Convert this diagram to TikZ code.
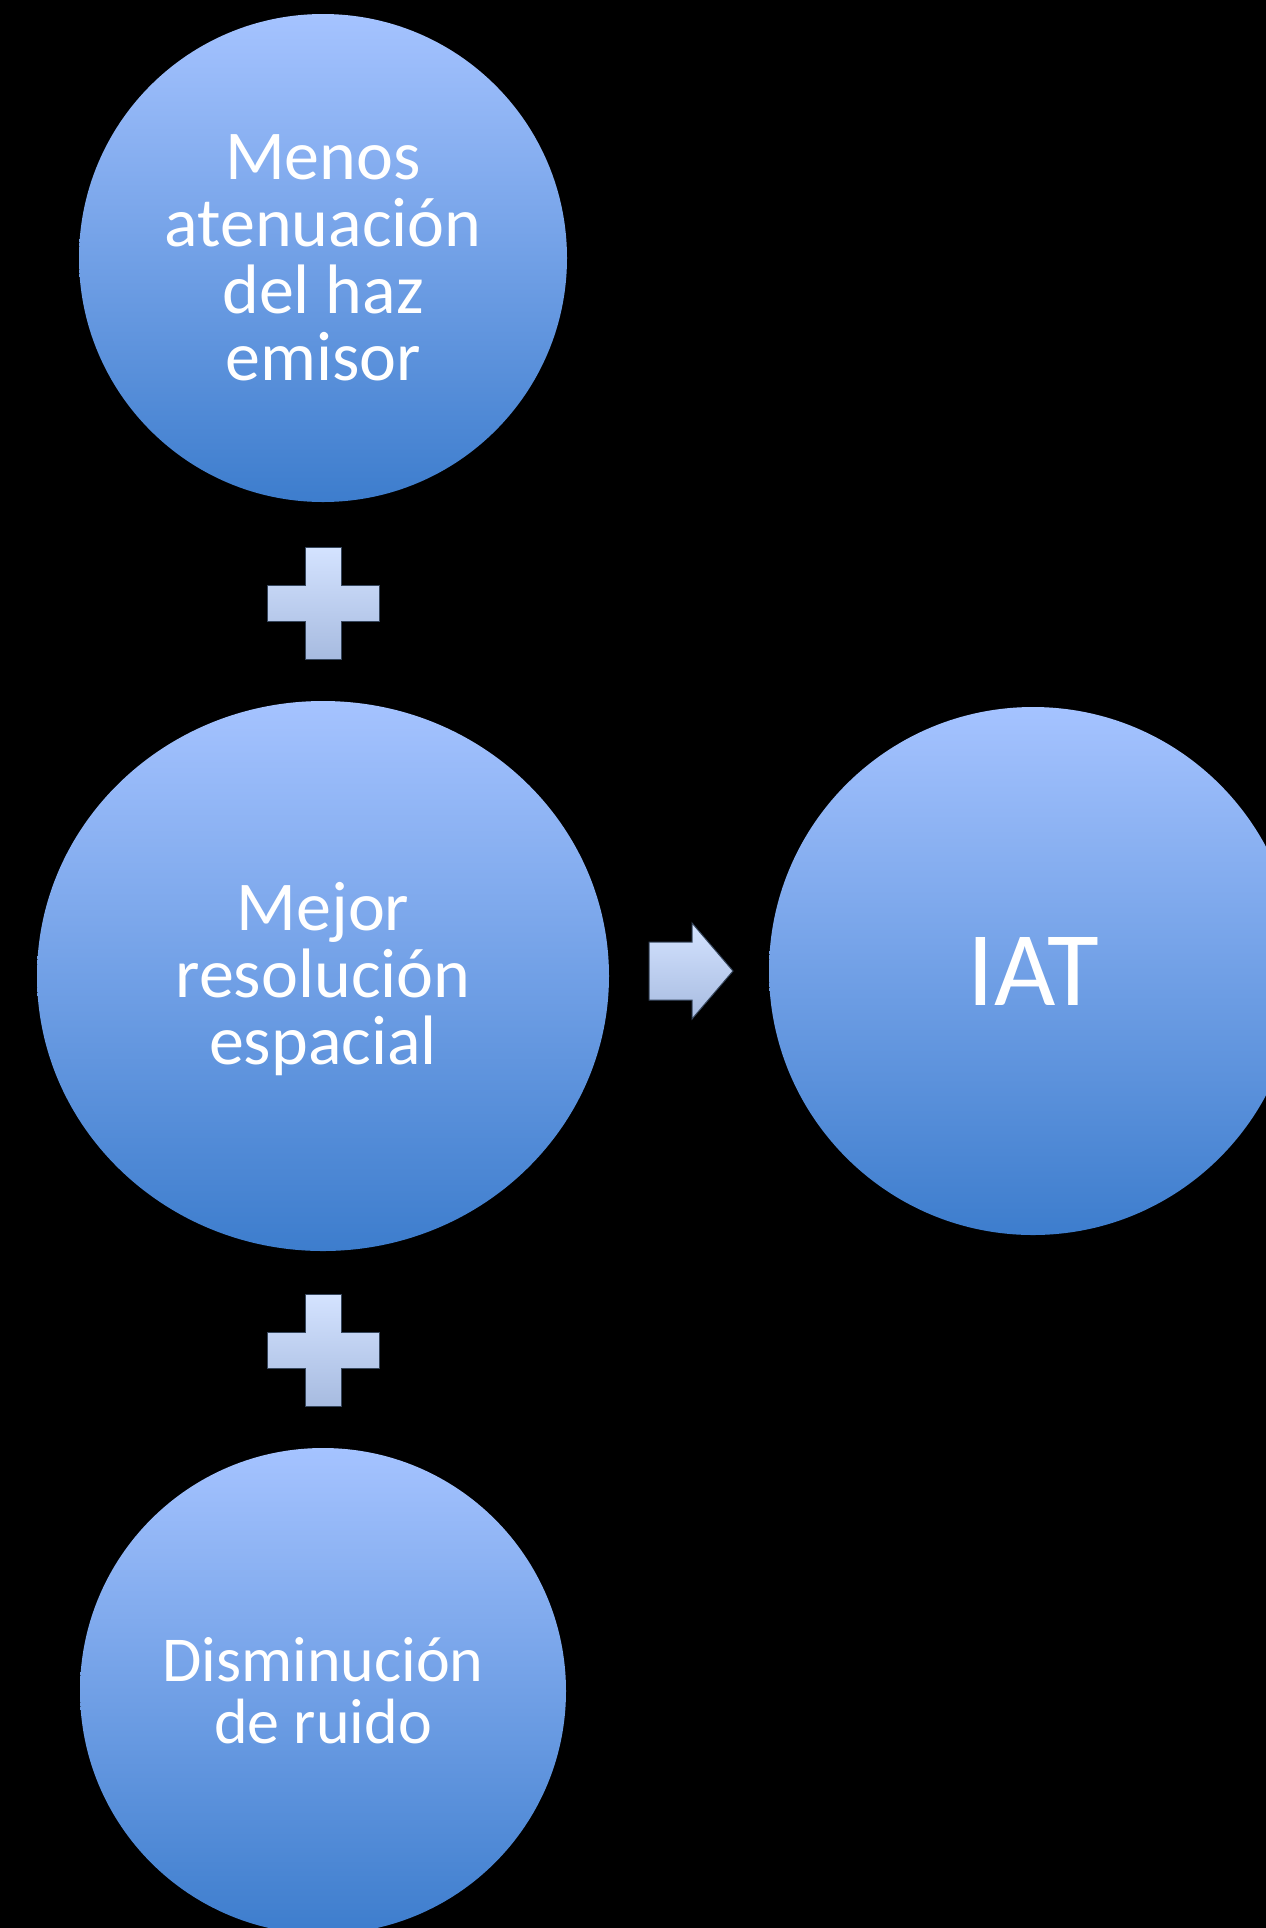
\documentclass[tikz,border=0pt]{standalone}
\usepackage{fontspec}
\setmainfont{Carlito}
\usetikzlibrary{shapes.geometric}
\definecolor{circtop}{HTML}{A5C3FF}
\definecolor{circbot}{HTML}{3D7DCD}
\definecolor{signtop}{HTML}{D4E3FF}
\definecolor{signbot}{HTML}{A7BBE0}
\definecolor{signline}{HTML}{36465C}
\begin{document}
\begin{tikzpicture}[x=1pt,y=-1pt,
  bubble/.style={circle, inner sep=0pt, top color=circtop, bottom color=circbot,
    text=white, align=center, font=\fontsize{70}{67}\selectfont},
  oval/.style={ellipse, inner sep=0pt, top color=circtop, bottom color=circbot,
    text=white, align=center, font=\fontsize{70}{67}\selectfont},
  sign/.style={top color=signtop, bottom color=signbot, draw=signline, line width=1pt}
]
\fill[black] (0,0) rectangle (1266,1928);
\useasboundingbox (0,0) rectangle (1266,1928);
\clip (0,0) rectangle (1266,1928);

% input bubbles
\node[bubble, minimum size=488pt] (atten) at (323,258)
  {Menos\\atenuación\\del haz\\emisor};
\node[oval, minimum width=572pt, minimum height=550pt] (resol) at (323,976)
  {\\[-12pt]Mejor\\resolución\\espacial};
\node[bubble, minimum size=486pt, font=\fontsize{64}{62}\selectfont] (ruido) at (323,1691)
  {Disminución\\de ruido};
% result bubble
\node[bubble, minimum size=528pt, font=\fontsize{106}{106}\selectfont] (iat) at (1033,971) {IAT};

% plus signs between the inputs
\coordinate (p1) at (323,603);
\coordinate (p2) at (323,1350);
\foreach \p in {p1,p2}{
  \draw[sign] (\p) ++(-18,-56) -- ++(36,0) -- ++(0,38) -- ++(38,0) -- ++(0,36)
    -- ++(-38,0) -- ++(0,38) -- ++(-36,0) -- ++(0,-38) -- ++(-38,0) -- ++(0,-36)
    -- ++(38,0) -- cycle;
}

% arrow towards the result
\coordinate (arr) at (649,971);
\draw[sign] (arr) ++(0,-29) -- ++(43,0) -- ++(0,-19) -- ++(41,48) -- ++(-41,48)
  -- ++(0,-19) -- ++(-43,0) -- cycle;
\end{tikzpicture}
\end{document}
